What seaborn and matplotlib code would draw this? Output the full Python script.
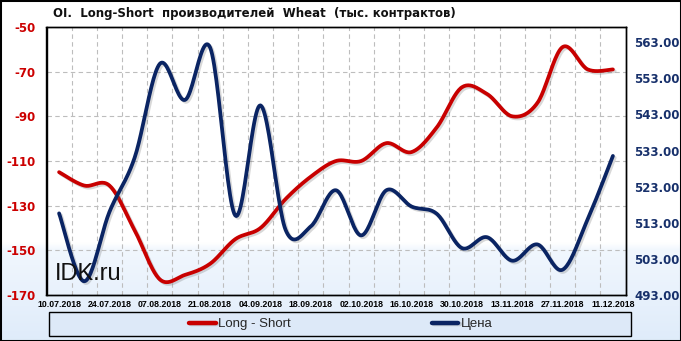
import numpy as np
import pandas as pd
import matplotlib
matplotlib.use("Agg")
import matplotlib.pyplot as plt
import seaborn as sns
from matplotlib import patheffects as pe
from matplotlib.lines import Line2D
from matplotlib.patches import Rectangle

# ---------------- data ----------------
dates = ["10.07.2018", "17.07.2018", "24.07.2018", "31.07.2018", "07.08.2018",
         "14.08.2018", "21.08.2018", "28.08.2018", "04.09.2018", "11.09.2018",
         "18.09.2018", "25.09.2018", "02.10.2018", "09.10.2018", "16.10.2018",
         "23.10.2018", "30.10.2018", "06.11.2018", "13.11.2018", "20.11.2018",
         "27.11.2018", "04.12.2018", "11.12.2018"]
long_short = [-115, -121, -121, -141, -163, -161, -156, -145, -140, -127, -117, -110,
              -110, -102, -106, -95, -77, -80, -90, -84, -59, -69, -69]
price = [515.6, 496.8, 516.0, 531.0, 557.0, 547.0, 561.5, 515.0, 545.5, 511.0, 512.0,
         522.0, 509.5, 522.0, 517.5, 515.5, 506.0, 509.0, 502.5, 507.0, 500.0, 514.0, 531.5]
left_ticks = [-50, -70, -90, -110, -130, -150, -170]
right_ticks = [493, 503, 513, 523, 533, 543, 553, 563]
title = "OI.  Long-Short  производителей  Wheat  (тыс. контрактов)"
series_names = ["Long - Short", "Цена"]

RED = "#c80000"
BLUE = "#0a2463"
W, H = 681, 341


def smooth(values, n=24):
    """Excel-style smoothed line (Catmull-Rom Bezier) through the read values."""
    y = np.asarray(values, float)
    x = np.arange(len(y), dtype=float)
    P = np.column_stack([x, y])
    Pe = np.vstack([P[0], P, P[-1]])
    out = []
    for i in range(len(P) - 1):
        p0, p1, p2, p3 = Pe[i], Pe[i + 1], Pe[i + 2], Pe[i + 3]
        c1 = p1 + (p2 - p0) / 6.0
        c2 = p2 - (p3 - p1) / 6.0
        t = np.linspace(0, 1, n, endpoint=(i == len(P) - 2))[:, None]
        B = (1 - t) ** 3 * p1 + 3 * (1 - t) ** 2 * t * c1 + 3 * (1 - t) * t ** 2 * c2 + t ** 3 * p2
        out.append(B)
    return np.vstack(out)


sns.set_style("white")
plt.rcParams["font.family"] = ["DejaVu Sans"]

fig = plt.figure(figsize=(W / 100, H / 100), dpi=100)

# background gradient (white at top, light blue at bottom)
bg = fig.add_axes([0, 0, 1, 1], zorder=-10)
bg.set_axis_off()
ys = np.linspace(0, 1, 400)  # 0 = bottom
top_c = np.array([1.0, 1.0, 1.0])
mid_c = np.array([0.945, 0.968, 0.995])
bot_c = np.array([0.875, 0.925, 0.980])
cols = []
for v in ys:
    pix_from_top = (1 - v) * H
    if pix_from_top < 243:
        cols.append(top_c)
    elif pix_from_top < 250:
        f = (pix_from_top - 243) / 7
        cols.append(top_c * (1 - f) + mid_c * f)
    else:
        f = (pix_from_top - 250) / (H - 250)
        cols.append(mid_c * (1 - f) + bot_c * f)
img = np.array(cols)[::-1][:, None, :]
bg.imshow(img, aspect="auto", extent=[0, 1, 0, 1], origin="upper")
bg.set_xlim(0, 1)
bg.set_ylim(0, 1)

# main axes
left, right, top, bottom = 46.5, 625.5, 27, 295
ax = fig.add_axes([left / W, 1 - bottom / H, (right - left) / W, (bottom - top) / H])
ax.patch.set_alpha(0)
ax2 = ax.twinx()
ax2.patch.set_alpha(0)

shadow = [pe.SimpleLineShadow(offset=(1.3, -1.3), shadow_color="#666666", alpha=0.25),
          pe.Normal()]

rs = smooth(long_short)
bs = smooth(price)
df_r = pd.DataFrame({"x": rs[:, 0], "y": rs[:, 1]})
df_b = pd.DataFrame({"x": bs[:, 0], "y": bs[:, 1]})
sns.lineplot(data=df_r, x="x", y="y", ax=ax, color=RED, linewidth=2.7, sort=False,
             estimator=None, solid_capstyle="round", path_effects=shadow, zorder=3)
sns.lineplot(data=df_b, x="x", y="y", ax=ax2, color=BLUE, linewidth=2.7, sort=False,
             estimator=None, solid_capstyle="round", path_effects=shadow, zorder=3)

n = len(dates)
ax.set_xlim(-0.5, n - 0.5)
ax.set_ylim(-170, -50)
ax2.set_ylim(493, 567.2)

ax.set_xticks(range(0, n, 2))
ax.set_xticklabels([dates[i] for i in range(0, n, 2)], fontsize=6.3, fontweight="bold",
                   family=["Liberation Sans", "DejaVu Sans"])
ax.set_xticks(np.arange(0.5, n - 1, 1), minor=True)
ax.set_yticks(left_ticks)
ax.set_yticklabels([str(t) for t in left_ticks], fontsize=8.5, fontweight="bold", color="#cc0000")
ax2.set_yticks(right_ticks)
ax2.set_yticklabels([f"{t:.2f}" for t in right_ticks], fontsize=8.5, fontweight="bold",
                    color="#17306b")
ax.set_xlabel("")
ax.set_ylabel("")
ax2.set_ylabel("")

ax.tick_params(axis="x", which="both", length=0, pad=3.5, colors="black")
ax.tick_params(axis="y", length=0, pad=8)
ax2.tick_params(axis="y", length=0, pad=6.5)

grid_kw = dict(color="#bdbdbd", linestyle=(0, (4, 3)), linewidth=0.8)
ax.grid(which="minor", axis="x", **grid_kw)
ax.grid(which="major", axis="y", **grid_kw)
ax.grid(which="major", axis="x", visible=False)
ax2.grid(False)
ax.set_axisbelow(True)

for a in (ax, ax2):
    for s in a.spines.values():
        s.set_visible(True)
        s.set_color("black")
        s.set_linewidth(1.0)

# title
fig.text(53 / W, 1 - 13 / H, title, ha="left", va="center", fontsize=8.5, fontweight="bold",
         color="#111111")

# watermark
fig.text(55 / W, 1 - 280 / H, "IDK.ru", ha="left", va="baseline", fontsize=17,
         family=["Liberation Sans", "DejaVu Sans"], color="#111111", zorder=20)

# legend box
fig.add_artist(Rectangle((49 / W, 1 - 336 / H), 582 / W, 24.5 / H, transform=fig.transFigure,
                         facecolor="#dde9f8", edgecolor="black", linewidth=1.0, zorder=1))
handles = [Line2D([], [], color=RED, linewidth=3.2, path_effects=shadow),
           Line2D([], [], color=BLUE, linewidth=3.2, path_effects=shadow)]
fig.legend(handles, series_names, loc="center", bbox_to_anchor=(341 / W, 1 - 324 / H),
           ncol=2, frameon=False, columnspacing=10.7, handlelength=2.0, handletextpad=0.2,
           prop={"family": ["Liberation Sans", "DejaVu Sans"], "size": 9.5})

# figure border
fig.add_artist(Rectangle((0, 0), 1, 1, transform=fig.transFigure, fill=False,
                         edgecolor="black", linewidth=2.2, zorder=30))

fig.savefig("out.png", dpi=100)
